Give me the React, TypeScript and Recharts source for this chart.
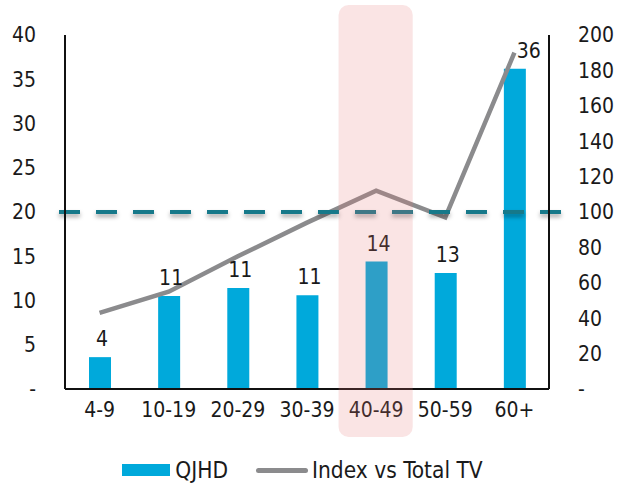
import { Bar, ComposedChart, LabelList, Legend, Line, ReferenceArea, ReferenceLine, XAxis, YAxis } from "recharts";

const categories = ["4-9", "10-19", "20-29", "30-39", "40-49", "50-59", "60+"];
const qjhdShare = [3.6, 10.5, 11.4, 10.6, 14.4, 13.1, 36.2];
const indexVsTotalTv = [43, 55, 75, 94, 112, 97, 190];
const leftTicks = [0, 5, 10, 15, 20, 25, 30, 35, 40];
const rightTicks = [0, 20, 40, 60, 80, 100, 120, 140, 160, 180, 200];
const highlightCategory = "40-49";
const baselineIndex = 100;

const FONT = '"DejaVu Sans Condensed", "DejaVu Sans", sans-serif';
const BLUE = "#00a9db";
const GREY = "#8b8b8d";
const TEAL = "#14798a";

const data = categories.map((c, i) => ({ name: c, qjhd: qjhdShare[i], index: indexVsTotalTv[i] }));

const dashTick = (v: number) => (v === 0 ? "-" : String(v));

function BarValue(props: any) {
  const { x, y, width, value, index } = props;
  const last = index === data.length - 1;
  return (
    <text x={x + width / 2 + (last ? 14 : 2)} y={y - 11} textAnchor="middle" fontSize={21}
      fontFamily={FONT} fill="#1a1a1a">
      {Math.round(value)}
    </text>
  );
}

function LegendBox() {
  return (
    <div style={{ display: "flex", justifyContent: "center", alignItems: "center", height: 26,
      fontFamily: FONT, fontSize: 22.5, color: "#1a1a1a", paddingRight: 14 }}>
      <span style={{ display: "inline-block", width: 48, height: 12, background: BLUE, marginRight: 5 }} />
      <span style={{ marginRight: 28 }}>QJHD</span>
      <span style={{ display: "inline-block", width: 52, height: 5, borderRadius: 3, background: GREY, marginRight: 4 }} />
      <span>Index vs Total TV</span>
    </div>
  );
}

// drawn through the label slot so the dashes can run past both axes
function DashedBaseline(p: any) {
  const { x, y, width } = p.viewBox;
  return (
    <g>
      <defs>
        <filter id="dashShadow" filterUnits="userSpaceOnUse" x={0} y={y - 20} width={640} height={40}>
          <feDropShadow dx="0" dy="3" stdDeviation="2" floodColor="#000" floodOpacity="0.35" />
        </filter>
      </defs>
      <line x1={x - 6} y1={y} x2={x + width + 17} y2={y} stroke={TEAL} strokeWidth={4}
        strokeDasharray="21 16" filter="url(#dashShadow)" />
    </g>
  );
}

function Highlight(p: any) {
  return (
    <rect x={p.x - 3} y={p.y - 30} width={p.width + 5} height={p.height + 78} rx={10} ry={10}
      fill="rgba(230,120,120,0.2)" />
  );
}

export default function App() {
  return (
    <div style={{ position: "absolute", left: 0, top: 0 }}>
      <ComposedChart width={619} height={485} data={data}
        margin={{ top: 35, right: 0, bottom: 30, left: 0 }}>
        <XAxis dataKey="name" tickLine={false} tickMargin={7}
          axisLine={{ stroke: "#111", strokeWidth: 2 }}
          tick={{ fontSize: 21, fontFamily: FONT, fill: "#1a1a1a" }} height={40} interval={0} />
        <YAxis yAxisId="left" orientation="left" domain={[0, 40]} ticks={leftTicks}
          tickFormatter={dashTick} width={65} tickLine={false} tickSize={0} tickMargin={29}
          axisLine={{ stroke: "#111", strokeWidth: 2 }}
          tick={{ fontSize: 21, fontFamily: FONT, fill: "#1a1a1a" }} />
        <YAxis yAxisId="right" orientation="right" domain={[0, 200]} ticks={rightTicks}
          tickFormatter={dashTick} width={70} tickLine={false} tickSize={0} tickMargin={29}
          axisLine={{ stroke: "#111", strokeWidth: 2 }}
          tick={{ fontSize: 21, fontFamily: FONT, fill: "#1a1a1a" }} />
        <Legend verticalAlign="bottom" content={<LegendBox />} wrapperStyle={{ bottom: 2 }} />
        <Bar yAxisId="left" dataKey="qjhd" name="QJHD" fill={BLUE} barSize={22} isAnimationActive={false}>
          <LabelList dataKey="qjhd" content={<BarValue />} />
        </Bar>
        <Line yAxisId="right" dataKey="index" name="Index vs Total TV" stroke={GREY} strokeWidth={4.5}
          dot={false} activeDot={false} isAnimationActive={false} />
        <ReferenceLine yAxisId="right" y={baselineIndex} ifOverflow="visible" stroke="none"
          label={<DashedBaseline />} />
        <ReferenceArea yAxisId="left" x1={highlightCategory} x2={highlightCategory} ifOverflow="visible"
          shape={<Highlight />} zIndex={2500} />
      </ComposedChart>
    </div>
  );
}
